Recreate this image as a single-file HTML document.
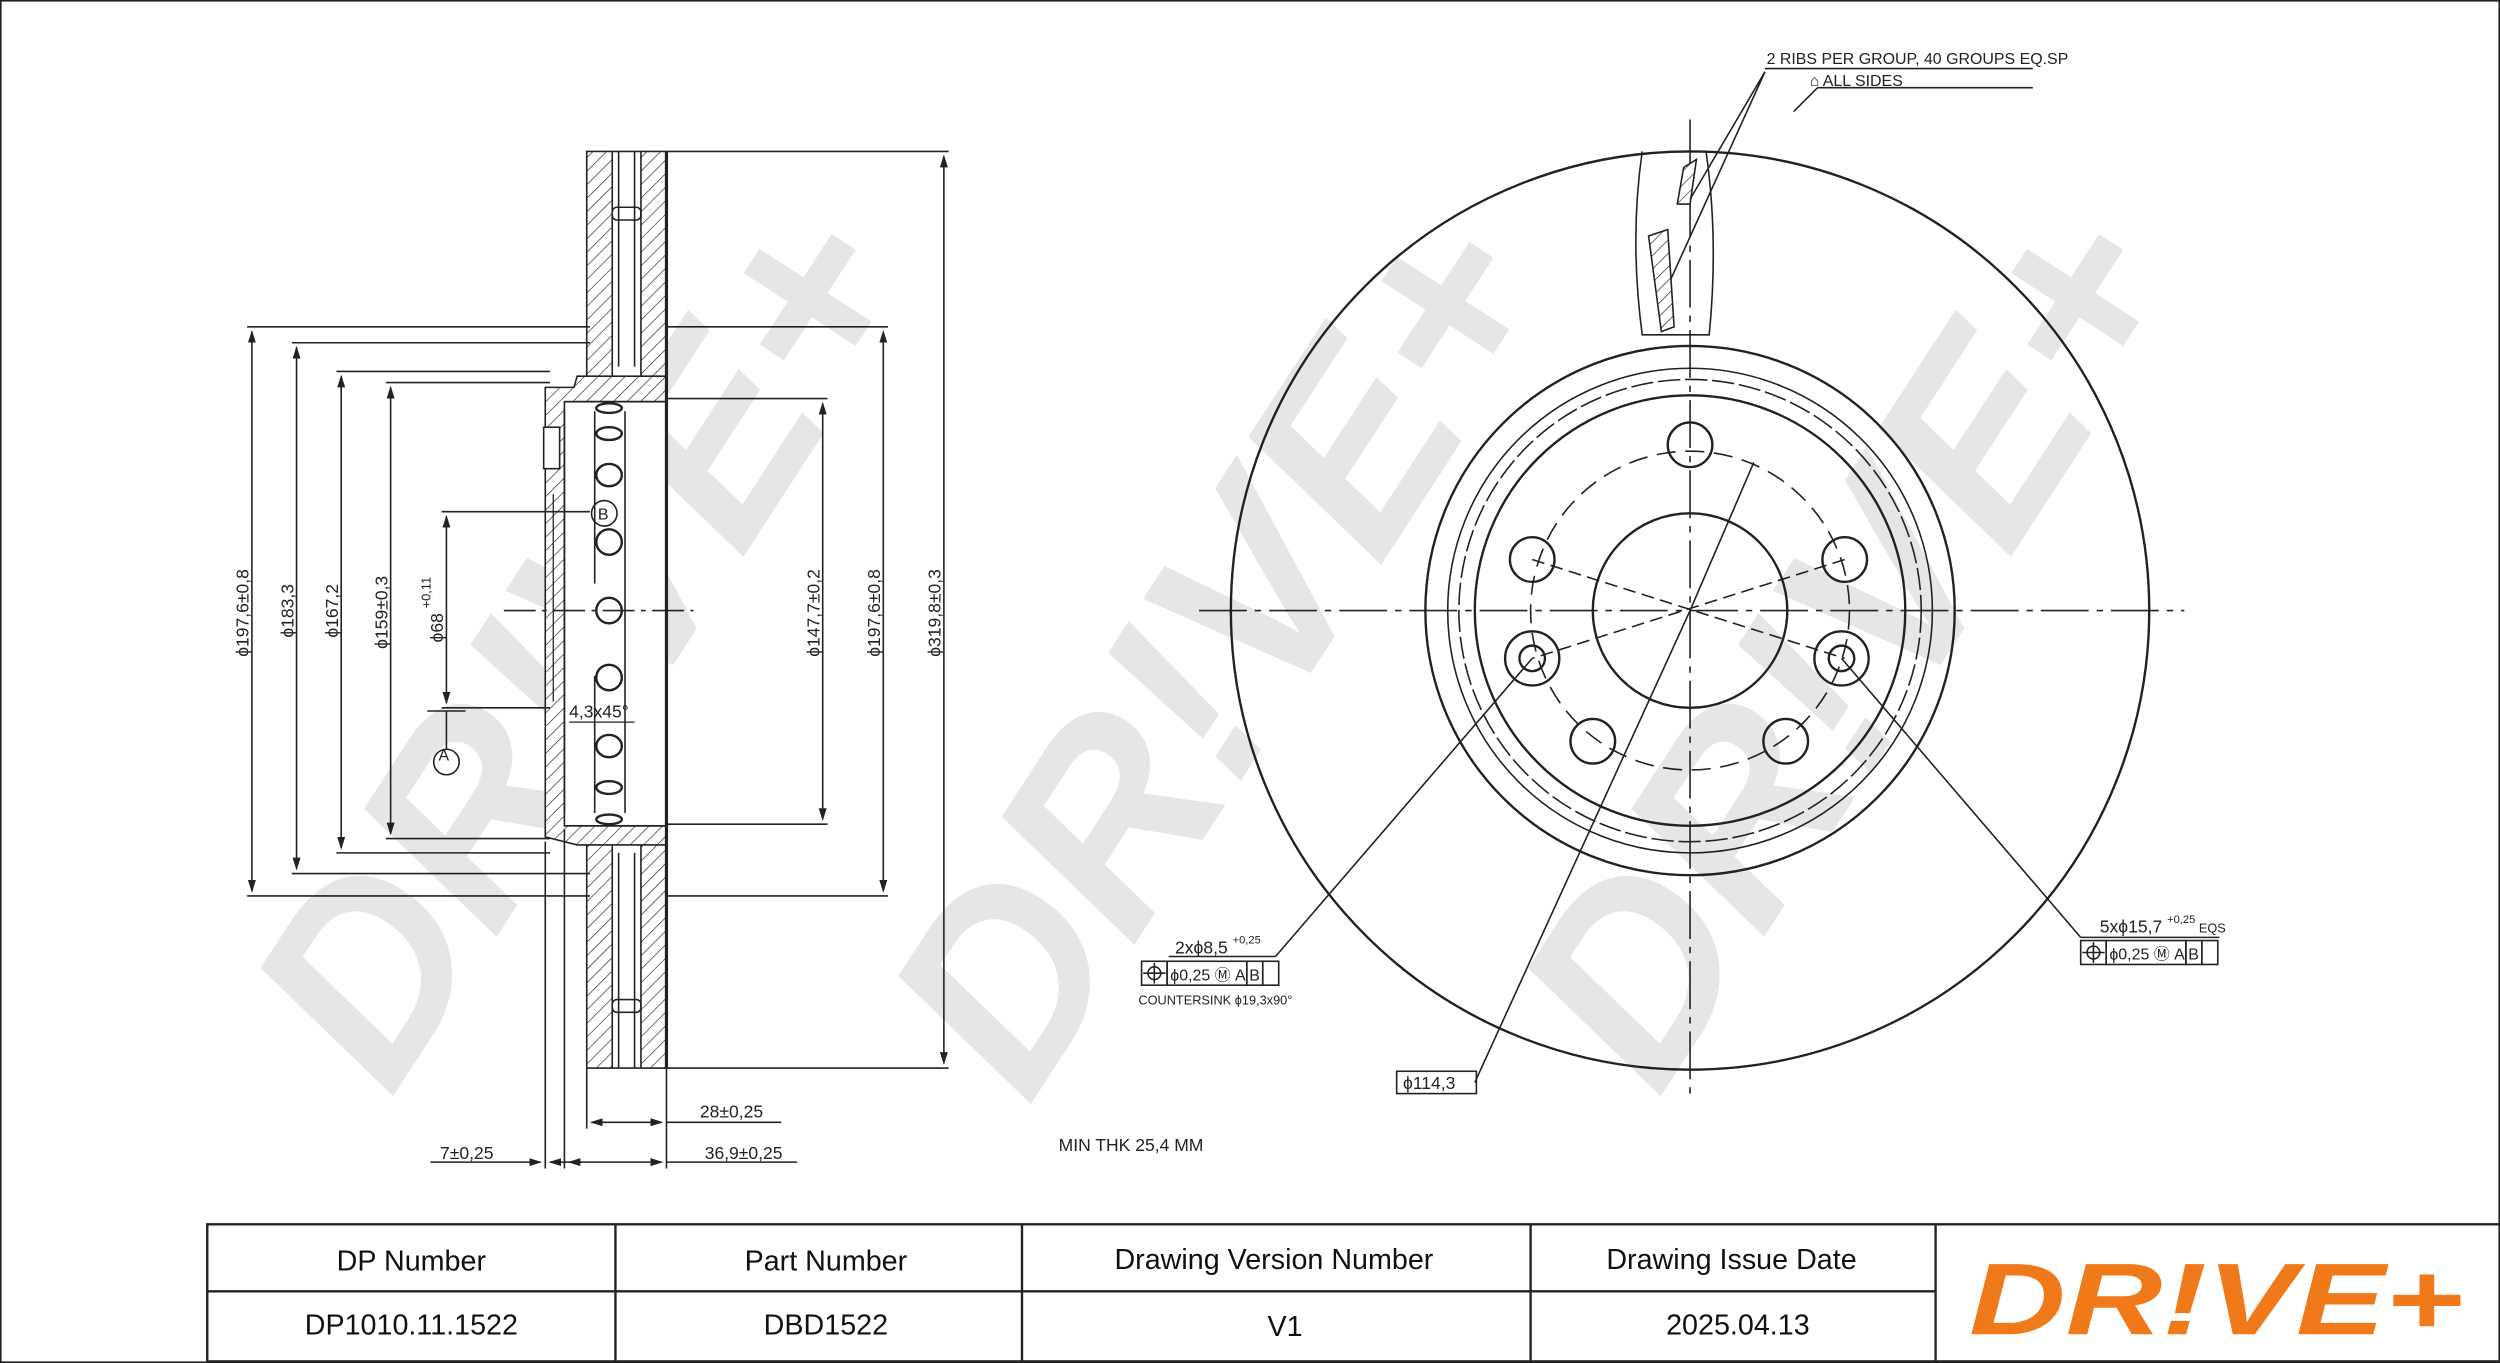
<!DOCTYPE html>
<html><head><meta charset="utf-8"><style>
html,body{margin:0;padding:0;background:#fff}
svg{display:block}
text{font-family:"Liberation Sans",sans-serif}
</style></head><body>
<svg width="2500" height="1363" viewBox="0 0 1568 855" preserveAspectRatio="none" xmlns="http://www.w3.org/2000/svg">
<defs>
<pattern id="h" width="6" height="6" patternUnits="userSpaceOnUse" patternTransform="rotate(45)">
<rect width="6" height="6" fill="#fff"/><line x1="0" y1="0" x2="0" y2="6" stroke="#222" stroke-width="0.8"/></pattern>
<marker id="a" markerWidth="8" markerHeight="8" refX="7" refY="4" orient="auto-start-reverse" markerUnits="userSpaceOnUse"><path d="M0,1.5 L8,4 L0,6.5z" fill="#222"/></marker>
</defs>
<rect x="0.5" y="0.5" width="1567" height="854" fill="#fff" stroke="#222" stroke-width="1"/>
<!-- watermarks -->
<g fill="#e6e6e6" font-weight="bold" font-style="italic" font-size="165">
<text transform="translate(245,690) rotate(-57)">DR!VE+</text>
<text transform="translate(645,695) rotate(-57)">DR!VE+</text>
<text transform="translate(1040,690) rotate(-57)">DR!VE+</text>
</g>
<g stroke="#222" fill="none" stroke-width="1">
<rect x="368" y="95" width="16" height="575" fill="url(#h)"/>
<rect x="402" y="95" width="16" height="575" fill="url(#h)"/>
<line x1="384" y1="95" x2="402" y2="95"/><line x1="384" y1="670" x2="402" y2="670"/>
<line x1="388" y1="95" x2="388" y2="230"/><line x1="398" y1="95" x2="398" y2="230"/>
<line x1="388" y1="535" x2="388" y2="670"/><line x1="398" y1="535" x2="398" y2="670"/>
<rect x="384" y="130" width="18" height="8" rx="3"/>
<rect x="384" y="627" width="18" height="8" rx="3"/>
<path d="M342,243 L360,243 L362,236 L418,236 L418,252 L362,252 L354,258 L354,510 L362,518 L418,518 L418,530 L362,530 L350,527 L342,525 Z" fill="url(#h)"/>
<rect x="354" y="252" width="64" height="266" fill="#fff"/>
<line x1="354" y1="252" x2="418" y2="252"/><line x1="354" y1="518" x2="418" y2="518"/>
<line x1="354" y1="258" x2="354" y2="510"/>
<rect x="341" y="268" width="10" height="26" fill="#fff"/>
<line x1="347" y1="310" x2="347" y2="440" stroke-width="0.8"/>
<line x1="373" y1="258" x2="373" y2="366"/><line x1="373" y1="424" x2="373" y2="510"/>
<line x1="392" y1="258" x2="392" y2="510"/>
<line x1="418" y1="95" x2="418" y2="670" stroke-width="2"/>
<g stroke-width="1.5">
<ellipse cx="382" cy="256" rx="8" ry="3"/><ellipse cx="382" cy="272" rx="8" ry="4"/>
<ellipse cx="382" cy="298" rx="8" ry="7"/><ellipse cx="382" cy="340" rx="8" ry="8"/>
<ellipse cx="382" cy="383" rx="8" ry="8"/><ellipse cx="382" cy="425" rx="8" ry="8"/>
<ellipse cx="382" cy="468" rx="8" ry="7"/><ellipse cx="382" cy="494" rx="8" ry="4"/>
<ellipse cx="382" cy="514" rx="8" ry="3"/>
</g>
<line x1="316" y1="383" x2="435" y2="383" stroke-dasharray="20,4,3,4"/>
<line x1="155" y1="205" x2="370" y2="205"/><line x1="155" y1="562" x2="370" y2="562"/>
<line x1="158" y1="208" x2="158" y2="559" marker-start="url(#a)" marker-end="url(#a)"/>
<line x1="183" y1="215" x2="370" y2="215"/><line x1="183" y1="548" x2="370" y2="548"/>
<line x1="186" y1="218" x2="186" y2="545" marker-start="url(#a)" marker-end="url(#a)"/>
<line x1="211" y1="233" x2="345" y2="233"/><line x1="211" y1="535" x2="345" y2="535"/>
<line x1="214" y1="236" x2="214" y2="532" marker-start="url(#a)" marker-end="url(#a)"/>
<line x1="242" y1="240" x2="345" y2="240"/><line x1="242" y1="526" x2="345" y2="526"/>
<line x1="245" y1="243" x2="245" y2="523" marker-start="url(#a)" marker-end="url(#a)"/>
<line x1="277" y1="321" x2="370" y2="321"/><line x1="277" y1="444" x2="345" y2="444"/>
<line x1="280" y1="324" x2="280" y2="441" marker-start="url(#a)" marker-end="url(#a)"/>
<line x1="268" y1="446" x2="292" y2="446"/><line x1="280" y1="446" x2="280" y2="470"/>
<circle cx="280" cy="478" r="8"/><circle cx="379" cy="322" r="8"/>
<line x1="357" y1="453" x2="398" y2="453" stroke-width="0.8"/>
<line x1="418" y1="95" x2="595" y2="95"/><line x1="418" y1="670" x2="595" y2="670"/>
<line x1="592" y1="98" x2="592" y2="667" marker-start="url(#a)" marker-end="url(#a)"/>
<line x1="418" y1="205" x2="557" y2="205"/><line x1="418" y1="562" x2="557" y2="562"/>
<line x1="554" y1="208" x2="554" y2="559" marker-start="url(#a)" marker-end="url(#a)"/>
<line x1="418" y1="250" x2="519" y2="250"/><line x1="418" y1="517" x2="519" y2="517"/>
<line x1="516" y1="253" x2="516" y2="514" marker-start="url(#a)" marker-end="url(#a)"/>
<line x1="368" y1="670" x2="368" y2="708"/><line x1="418" y1="670" x2="418" y2="733"/>
<line x1="342" y1="528" x2="342" y2="733"/><line x1="354" y1="520" x2="354" y2="733"/>
<line x1="371" y1="704" x2="415" y2="704" marker-start="url(#a)" marker-end="url(#a)"/>
<line x1="418" y1="704" x2="490" y2="704"/>
<line x1="345" y1="729" x2="415" y2="729" marker-start="url(#a)" marker-end="url(#a)"/>
<line x1="418" y1="729" x2="500" y2="729"/>
<line x1="270" y1="729" x2="339" y2="729" marker-end="url(#a)"/>
<line x1="357" y1="729" x2="365" y2="729" marker-start="url(#a)"/>
</g>
<g font-size="11" fill="#222">
<text transform="translate(156,412) rotate(-90)">ϕ197,6±0,8</text>
<text transform="translate(184,400) rotate(-90)">ϕ183,3</text>
<text transform="translate(212,400) rotate(-90)">ϕ167,2</text>
<text transform="translate(243,407) rotate(-90)">ϕ159±0,3</text>
<text transform="translate(278,403) rotate(-90)">ϕ68 <tspan font-size="8" dy="-8">+0,11</tspan></text>
<text transform="translate(514,412) rotate(-90)">ϕ147,7±0,2</text>
<text transform="translate(552,412) rotate(-90)">ϕ197,6±0,8</text>
<text transform="translate(590,412) rotate(-90)">ϕ319,8±0,3</text>
<text x="357" y="450">4,3x45°</text>
<text x="275" y="477" font-size="10">A</text><text x="375" y="326" font-size="10">B</text>
<text x="439" y="701">28±0,25</text>
<text x="442" y="727">36,9±0,25</text>
<text x="276" y="727">7±0,25</text>
<text x="664" y="722">MIN THK 25,4 MM</text>
</g>
<g stroke="#222" fill="none" stroke-width="1">
<circle cx="1060" cy="383" r="288" stroke-width="1.5"/>
<circle cx="1060" cy="383" r="166" stroke-width="1.5"/>
<circle cx="1060" cy="383" r="152"/>
<circle cx="1060" cy="383" r="145" stroke-dasharray="14,3"/>
<circle cx="1060" cy="383" r="135" stroke-width="1.5"/>
<circle cx="1060" cy="383" r="100" stroke-dasharray="12,6"/>
<circle cx="1060" cy="383" r="61" stroke-width="1.5"/>
<line x1="752" y1="383" x2="1370" y2="383" stroke-dasharray="30,5,4,5"/>
<line x1="1060" y1="75" x2="1060" y2="690" stroke-dasharray="30,5,4,5"/>
<g stroke-width="1.5">
<circle cx="1060" cy="279" r="14"/><circle cx="961" cy="351" r="14"/><circle cx="1157" cy="351" r="14"/>
<circle cx="999" cy="465" r="14"/><circle cx="1120" cy="465" r="14"/>
<circle cx="961" cy="413" r="17"/><circle cx="961" cy="413" r="8"/>
<circle cx="1155" cy="413" r="17"/><circle cx="1155" cy="413" r="8"/>
</g>
<line x1="961" y1="351" x2="1157" y2="413" stroke-dasharray="8,4"/>
<line x1="1157" y1="351" x2="961" y2="413" stroke-dasharray="8,4"/>
<path d="M1030,95 Q1022,150 1030,210 L1072,210 Q1078,150 1070,95"/>
<path d="M1056,105 L1064,100 L1060,128 L1052,128 Z" fill="url(#h)"/>
<path d="M1034,148 L1046,144 L1050,205 L1042,208 Z" fill="url(#h)"/>
<line x1="1060" y1="125" x2="1107" y2="45"/><line x1="1048" y1="175" x2="1107" y2="45"/>
<line x1="1107" y1="43" x2="1275" y2="43"/>
<line x1="1125" y1="70" x2="1140" y2="55"/><line x1="1140" y1="55" x2="1275" y2="55"/>
<line x1="1060" y1="383" x2="1100" y2="290"/>
<line x1="961" y1="413" x2="800" y2="600"/><line x1="733" y1="600" x2="800" y2="600"/>
<line x1="1155" y1="413" x2="1305" y2="588"/><line x1="1305" y1="588" x2="1392" y2="588"/>
<line x1="1060" y1="383" x2="925" y2="679"/>
<rect x="876" y="672" width="50" height="14"/>
<rect x="716" y="603" width="16" height="15"/><rect x="732" y="603" width="50" height="15"/>
<rect x="782" y="603" width="10" height="15"/><rect x="792" y="603" width="10" height="15"/>
<circle cx="724" cy="610.5" r="4"/><line x1="717" y1="610.5" x2="731" y2="610.5"/><line x1="724" y1="604" x2="724" y2="617"/>
<rect x="1305" y="590" width="16" height="15"/><rect x="1321" y="590" width="50" height="15"/>
<rect x="1371" y="590" width="10" height="15"/><rect x="1381" y="590" width="10" height="15"/>
<circle cx="1313" cy="597.5" r="4"/><line x1="1306" y1="597.5" x2="1320" y2="597.5"/><line x1="1313" y1="591" x2="1313" y2="604"/>
</g>
<g font-size="10" fill="#222">
<text x="1108" y="40">2 RIBS PER GROUP, 40 GROUPS EQ.SP</text>
<text x="1135" y="54">⌂ ALL SIDES</text>
<text x="737" y="598" font-size="11">2xϕ8,5 <tspan font-size="7" dy="-6">+0,25</tspan></text>
<text x="734" y="615">ϕ0,25 Ⓜ A B</text>
<text x="714" y="630" font-size="8">COUNTERSINK ϕ19,3x90°</text>
<text x="1317" y="585" font-size="11">5xϕ15,7 <tspan font-size="7" dy="-6">+0,25</tspan><tspan font-size="8" dy="6"> EQS</tspan></text>
<text x="1323" y="602">ϕ0,25 Ⓜ A B</text>
<text x="880" y="683" font-size="11">ϕ114,3</text>
</g>
<g stroke="#222" stroke-width="1.5" fill="none">
<rect x="130" y="768" width="1438" height="86"/>
<line x1="130" y1="810" x2="1214" y2="810"/>
<line x1="386" y1="768" x2="386" y2="854"/><line x1="641" y1="768" x2="641" y2="854"/>
<line x1="960" y1="768" x2="960" y2="854"/><line x1="1214" y1="768" x2="1214" y2="854"/>
</g>
<g font-size="18" fill="#111" text-anchor="middle">
<text x="258" y="797">DP Number</text><text x="518" y="797">Part Number</text>
<text x="799" y="796">Drawing Version Number</text><text x="1086" y="796">Drawing Issue Date</text>
<text x="258" y="837">DP1010.11.1522</text><text x="518" y="837">DBD1522</text>
<text x="806" y="838">V1</text><text x="1090" y="837">2025.04.13</text>
</g>
<text x="1390" y="837" text-anchor="middle" font-size="64" font-weight="bold" font-style="italic" fill="#f07a1a" textLength="310" lengthAdjust="spacingAndGlyphs">DR!VE+</text>
</svg>
</body></html>
